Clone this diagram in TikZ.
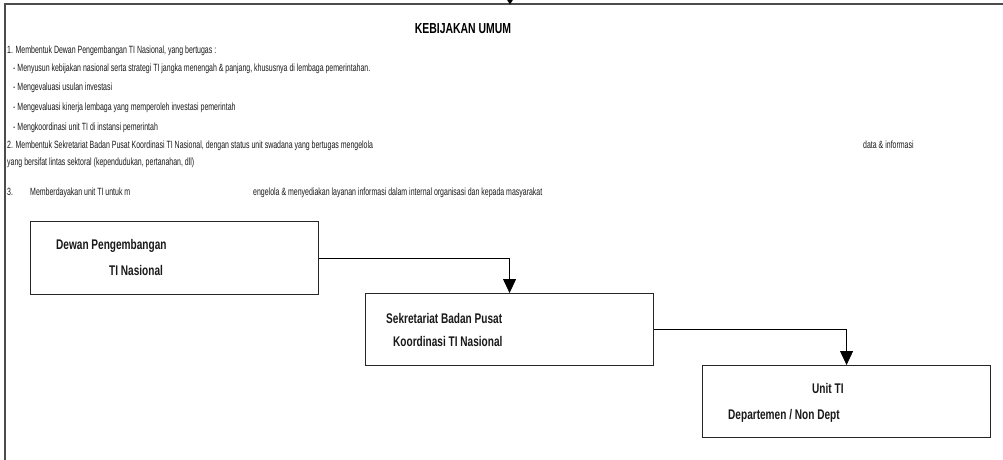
\documentclass[tikz,border=0pt]{standalone}
\usepackage{fontspec}
\newfontfamily\narrowfont[FakeStretch=0.72]{Liberation Sans}
\newfontfamily\narrowerfont[FakeStretch=0.665]{Liberation Sans}
\usetikzlibrary{arrows.meta}
\begin{document}
\begin{tikzpicture}[x=1pt,y=-1pt,
  frameline/.style={draw=black!70,line width=1.6pt},
  boxnode/.style={draw=black!85,line width=1.1pt,inner sep=0pt,anchor=north west},
  small/.style={inner sep=0pt,anchor=base west,font=\narrowerfont\fontsize{10.5}{12}\selectfont,text=black!90},
  boxtext/.style={inner sep=0pt,anchor=base west,font=\narrowfont\bfseries\fontsize{14}{16}\selectfont,text=black!90},
  conn/.style={draw=black,line width=0.8pt,-{Triangle[width=13pt,length=14pt]}}]
\useasboundingbox (0,0) rectangle (1003,459);
% outer frame
\coordinate (fbl) at (5,460);
\coordinate (ftl) at (5,4);
\coordinate (ftr) at (1004,4);
\draw[frameline] (fbl) -- (ftl) -- (ftr);
\coordinate (topin) at (510,0);
\coordinate (toptip) at (510,4.5);
\draw[draw=black,line width=0.8pt,-{Triangle[width=6pt,length=5pt]}] (topin) -- (toptip);
% title
\node[inner sep=0pt,anchor=base,font=\narrowfont\bfseries\fontsize{14.5}{16}\selectfont] (title) at (463,33) {KEBIJAKAN UMUM};
% text lines
\node[small] (l1) at (7,53.5) {1. Membentuk Dewan Pengembangan TI Nasional, yang bertugas :};
\node[small] (l2) at (13,71.5) {- Menyusun kebijakan nasional serta strategi TI jangka menengah \& panjang, khususnya di lembaga pemerintahan.};
\node[small] (l3) at (13,90.5) {- Mengevaluasi usulan investasi};
\node[small] (l4) at (13,110.5) {- Mengevaluasi kinerja lembaga yang memperoleh investasi pemerintah};
\node[small] (l5) at (13,130.5) {- Mengkoordinasi unit TI di instansi pemerintah};
\node[small] (l6) at (7,148.5) {2. Membentuk Sekretariat Badan Pusat Koordinasi TI Nasional, dengan status unit swadana yang bertugas mengelola};
\node[small] (l6b) at (863,148.5) {data \& informasi};
\node[small] (l7) at (7,165.5) {yang bersifat lintas sektoral (kependudukan, pertanahan, dll)};
\node[small] (l8a) at (7,195.5) {3.};
\node[small] (l8b) at (30,195.5) {Memberdayakan unit TI untuk m};
\node[small] (l8c) at (253,195.5) {engelola \& menyediakan layanan informasi dalam internal organisasi dan kepada masyarakat};
% boxes
\node[boxnode,minimum width=288pt,minimum height=73pt] (b1) at (30,221) {};
\node[boxnode,minimum width=288pt,minimum height=72pt] (b2) at (365,293) {};
\node[boxnode,minimum width=288pt,minimum height=72pt] (b3) at (702,365) {};
% box texts
\node[boxtext] (t1a) at (56,249) {Dewan Pengembangan};
\node[boxtext] (t1b) at (109,275) {TI Nasional};
\node[boxtext] (t2a) at (386,323) {Sekretariat Badan Pusat};
\node[boxtext] (t2b) at (393,346) {Koordinasi TI Nasional};
\node[boxtext] (t3a) at (812,393) {Unit TI};
\node[boxtext] (t3b) at (728,419) {Departemen / Non Dept};
% connectors
\draw[conn] (b1.east) -| (b2.north);
\draw[conn] (b2.east) -| (b3.north);
\end{tikzpicture}
\end{document}
